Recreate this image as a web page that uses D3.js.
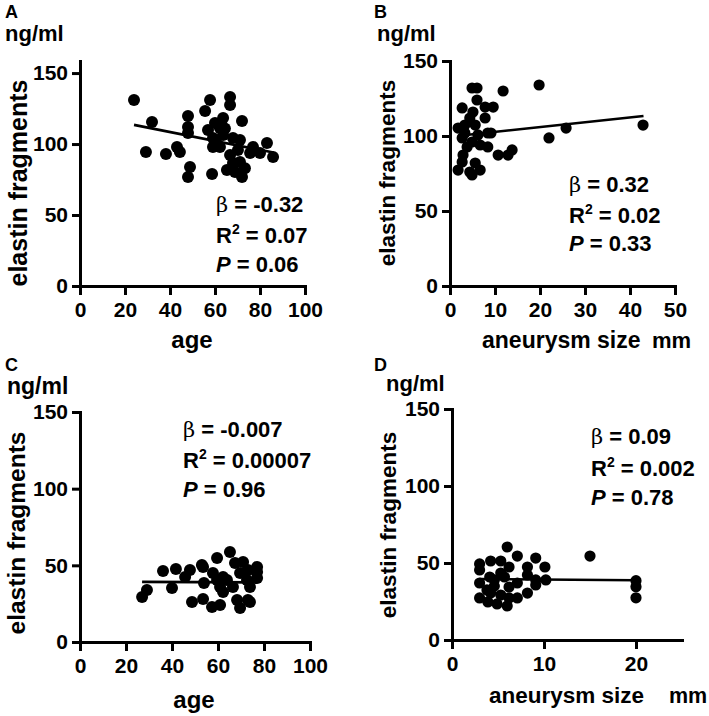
<!DOCTYPE html>
<html><head><meta charset="utf-8">
<script src="https://cdn.jsdelivr.net/npm/d3@7"></script>
<style>
body{margin:0;background:#fff;}
text{font-family:"Liberation Sans",Arial,Helvetica,sans-serif;font-weight:bold;fill:#000;}
</style></head>
<body><svg id="c" width="709" height="716"></svg>
<script>
// ---------- data ----------
const ageA = [24,32,29.3,38.2,43.1,44.4,48,48,48,48.9,48,55.6,57.8,58.7,59.1,59.1,56.9,60,62.2,62.2,63.6,63.6,65.3,66.7,66.7,66.7,68,68,68.9,71.1,71.1,72,72,75.6,76.9,80,83.1,85.8,64.4,60.4,70.2,73.3];
const elastinA = [131,115.5,94.4,93,97.9,94.4,119.7,112,107.7,83.8,76.8,123.2,131,78.9,104.2,97.9,109.9,114.8,111.3,97.9,118.3,106.3,81.7,133.1,127.5,92.3,104.2,86.6,80.3,102.8,87.3,116.2,76.8,93.7,97.9,93.7,100.7,90.8,111,102.8,95.8,83];
const sizeB = [4.9,6,11.8,6,2.7,7.8,9.6,5.1,4.4,7.8,3.3,5.6,3.3,8.4,2.7,4.9,6.7,8.4,3.8,10.7,13.8,12.9,2.7,5.6,1.8,4.4,6.7,4.9,2.9,1.8,6.2,19.8,22,25.8,42.9,9.1];
const elastinB = [132,132,130,124,118.7,119.3,119.3,116,112,112,107.3,107.3,102,102,98.7,96,94,92.7,92.7,87.3,90.7,87.3,82.7,82,77.3,76,77.3,74,87.3,105.3,100.7,134,98.7,105.3,107.3,102];
const ageC = [27,29.1,36.1,41.7,40,45.7,47.8,48.7,53.5,53.5,53.9,59.6,57.8,57.4,60.9,65.2,67.4,63.9,66.5,68.3,69.6,70.9,73,77,77,73.9,73,72.6,69.6,60.9,59.6,62.2,62.2,77,53,73.9];
const elastinC = [29.4,33.9,46.3,47.6,35.2,42.4,47,26.1,48.9,28,38.5,54.8,45,22.8,24.1,58.7,51.5,40.4,35.9,27.4,22.2,52.2,47,48.9,45.7,35.9,27.4,40.4,45,35.9,40.4,42.4,32.6,41.7,50.2,26.1];
const sizeD = [6,7.1,15,3,4.2,5.3,6.2,8.2,9.1,10.1,3,4.6,5.7,7.1,8.2,9.1,10.2,3,4.2,5.3,6.2,3.8,4.9,6.2,7.1,8.2,9.1,3.9,6,3,20,20,20,5.3,4.6,4.1];
const elastinD = [60.4,54.5,54.5,49.4,51.3,51.3,47.4,47.4,53.2,47.4,37,39,40.9,37,42.2,39,39,27.3,30.5,29.2,34.4,32.5,23.4,27.3,27.3,30.5,35.7,24.7,22.1,45.5,38.5,34.6,27.4,43.5,35,40.9];
const fitAx = [24,86], fitAy = [113.5,94];
const fitBx = [2,43], fitBy = [100.2,113.3];
const fitCx = [27,77], fitCy = [39.2,38.9];
const fitDx = [3,20], fitDy = [39.6,38.8];
const yTicks = [0,50,100,150];
const xTicksAge = [0,20,40,60,80,100];
const xTicksB = [0,10,20,30,40,50];
const xTicksD = [0,10,20];
const panelLetters = ["A","B","C","D"];
const betaText = ["= -0.32","= 0.32","= -0.007","= 0.09"];
const r2Text = ["= 0.07","= 0.02","= 0.00007","= 0.002"];
const pText = ["= 0.06","= 0.33","= 0.96","= 0.78"];
const yTitle = "elastin fragments";
const unitText = "ng/ml";

// ---------- layout ----------
const panels = [
 {xs:ageA, ys:elastinA, fx:fitAx, fy:fitAy, xd:[0,100], xr:[80,305], yd:[0,158.5], yr:[286,61], xt:xTicksAge, r:6,
  letter:[5,18], unit:[5,41,22], yl:[27,183,25], xl:{t:"age",x:192,y:348,s:24}, ann:[216,212,243,272]},
 {xs:sizeB, ys:elastinB, fx:fitBx, fy:fitBy, xd:[0,50], xr:[450,675], yd:[0,150], yr:[286,61], xt:xTicksB, r:5.6,
  letter:[374,18], unit:[377,41,22], yl:[395,173,22.5], xl:{t:"aneurysm size",x:482,y:348,s:23,mm:652}, ann:[569,192,223,251]},
 {xs:ageC, ys:elastinC, fx:fitCx, fy:fitCy, xd:[0,100], xr:[80,310], yd:[0,150], yr:[642,412], xt:xTicksAge, r:6,
  letter:[5,371], unit:[7,394,23], yl:[25,533,24.5], xl:{t:"age",x:194,y:708,s:24}, ann:[183,437,468,497]},
 {xs:sizeD, ys:elastinD, fx:fitDx, fy:fitDy, xd:[0,25], xr:[452,682], yd:[0,150], yr:[640,409], xt:xTicksD, r:5.6,
  letter:[374,371], unit:[386,391,22], yl:[396,525,22.5], xl:{t:"aneurysm size",x:489,y:703,s:22.5,mm:669}, ann:[591,444,476,505]}
];

const svg = d3.select("#c");
svg.append("rect").attr("width",709).attr("height",716).attr("fill","#fff");

panels.forEach((p,i)=>{
  const g = svg.append("g");
  const x = d3.scaleLinear().domain(p.xd).range(p.xr);
  const y = d3.scaleLinear().domain(p.yd).range(p.yr);

  // axes
  const ax = g.append("g").attr("transform",`translate(0,${p.yr[0]})`)
    .call(d3.axisBottom(x).tickValues(p.xt).tickSize(9).tickSizeOuter(0).tickPadding(7).tickFormat(d3.format("d")));
  const ay = g.append("g").attr("transform",`translate(${p.xr[0]},0)`)
    .call(d3.axisLeft(y).tickValues(yTicks).tickSize(8).tickSizeOuter(0).tickPadding(4).tickFormat(d3.format("d")));
  [ax,ay].forEach(a=>{
    a.select(".domain").attr("stroke","#000").attr("stroke-width",3).attr("stroke-linecap","square");
    a.selectAll(".tick line").attr("stroke","#000").attr("stroke-width",3);
    a.selectAll(".tick text").attr("font-size",21).attr("font-family","Liberation Sans, Arial, sans-serif").attr("font-weight","bold").attr("fill","#000");
  });

  // points
  g.append("g").selectAll("circle").data(p.xs.map((v,k)=>[v,p.ys[k]])).join("circle")
    .attr("cx",d=>x(d[0])).attr("cy",d=>y(d[1])).attr("r",p.r).attr("fill","#000");

  // fit line
  g.append("path").datum(p.fx.map((v,k)=>[v,p.fy[k]]))
    .attr("d",d3.line().x(d=>x(d[0])).y(d=>y(d[1])))
    .attr("stroke","#000").attr("stroke-width",2.6).attr("fill","none");

  // labels
  g.append("text").attr("x",p.letter[0]).attr("y",p.letter[1]).attr("font-size",18).text(panelLetters[i]);
  g.append("text").attr("x",p.unit[0]).attr("y",p.unit[1]).attr("font-size",p.unit[2]).text(unitText);
  g.append("text").attr("transform",`translate(${p.yl[0]},${p.yl[1]}) rotate(-90)`).attr("text-anchor","middle")
    .attr("font-size",p.yl[2]).text(yTitle);
  if(p.xl.mm){
    g.append("text").attr("x",p.xl.x).attr("y",p.xl.y).attr("font-size",p.xl.s).text(p.xl.t);
    g.append("text").attr("x",p.xl.mm).attr("y",p.xl.y).attr("font-size",p.xl.s-1).text("mm");
  } else {
    g.append("text").attr("x",p.xl.x).attr("y",p.xl.y).attr("text-anchor","middle").attr("font-size",p.xl.s).text(p.xl.t);
  }

  // annotations
  const fs = 22, ann = p.ann;
  const t1 = g.append("text").attr("x",ann[0]).attr("y",ann[1]).attr("font-size",fs);
  t1.append("tspan").attr("font-family","DejaVu Serif, Liberation Serif, serif").attr("font-weight","normal").attr("font-size",21).text("β");
  t1.append("tspan").text(" "+betaText[i]);
  const t2 = g.append("text").attr("x",ann[0]).attr("y",ann[2]).attr("font-size",fs);
  t2.append("tspan").text("R");
  t2.append("tspan").attr("font-size",14).attr("dy",-9).text("2");
  t2.append("tspan").attr("dy",9).text(" "+r2Text[i]);
  const t3 = g.append("text").attr("x",ann[0]).attr("y",ann[3]).attr("font-size",fs);
  t3.append("tspan").attr("font-style","italic").text("P");
  t3.append("tspan").text(" "+pText[i]);
});
</script></body></html>
